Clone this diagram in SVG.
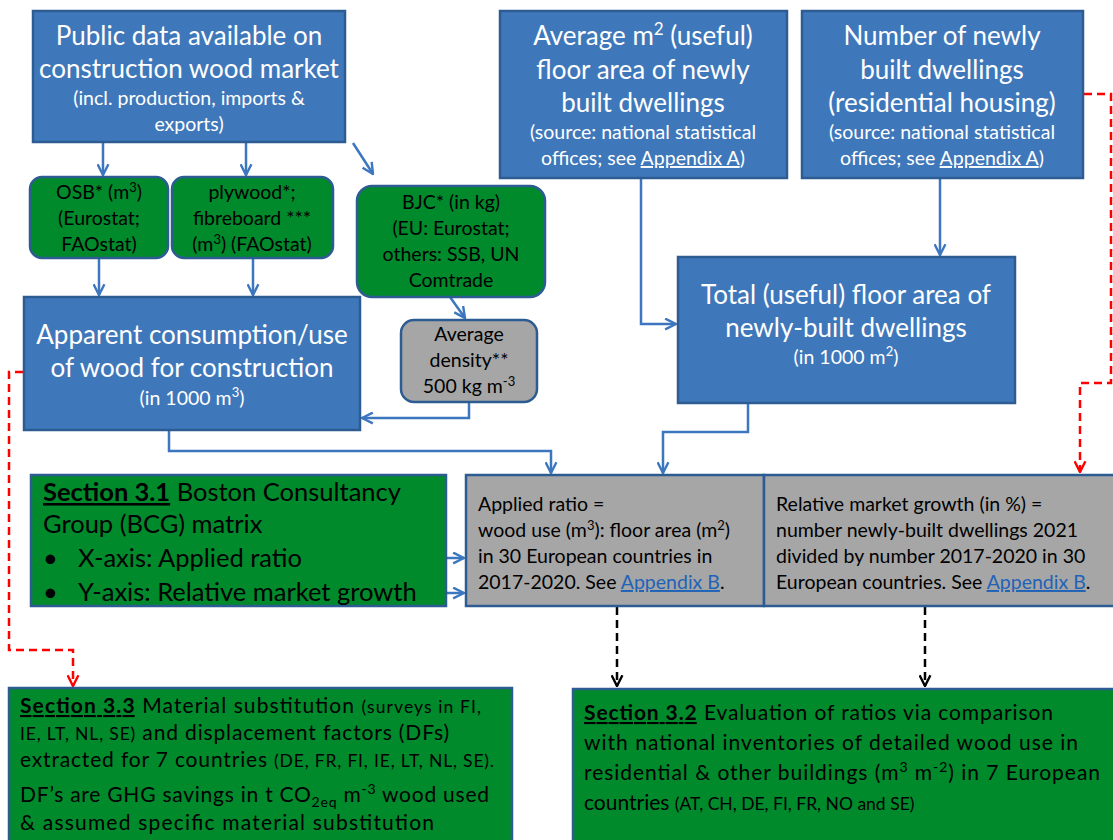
<svg xmlns="http://www.w3.org/2000/svg" width="1113" height="840" viewBox="0 0 1113 840">
<defs>
<style>
.blue{fill:#3f78ba;stroke:#2d5c92;stroke-width:2.5}
.green{fill:#008a2b;stroke:#2d5c92;stroke-width:2.5}
.gray{fill:#a6a6a6;stroke:#2d5c92;stroke-width:2.5}
text{font-family:Lato,"Liberation Sans",sans-serif}
.wt{fill:#ffffff;text-anchor:middle}
.bt{fill:#000000;text-anchor:middle}
.lt{fill:#000000}
.big{font-size:26px}
.mid{font-size:19.5px}
.sm{font-size:19.5px}
.gt{font-size:19.5px}
.link{fill:#1f63b8;text-decoration:underline}
.ul{text-decoration:underline;font-weight:bold}
.conn{fill:none;stroke:#3b76bf;stroke-width:2.5}
.red{fill:none;stroke:#ff0000;stroke-width:2.5;stroke-dasharray:8,5}
.blk{fill:none;stroke:#000000;stroke-width:2.5;stroke-dasharray:8,5}
</style>
<marker id="ab" viewBox="0 0 12 12" refX="11" refY="6" markerWidth="13" markerHeight="13" markerUnits="userSpaceOnUse" orient="auto"><path d="M1,1 L11,6 L1,11" fill="none" stroke="#3b76bf" stroke-width="2.2"/></marker>
<marker id="ar" viewBox="0 0 12 12" refX="11" refY="6" markerWidth="13" markerHeight="13" markerUnits="userSpaceOnUse" orient="auto"><path d="M1,1 L11,6 L1,11" fill="none" stroke="#ff0000" stroke-width="2.2"/></marker>
<marker id="ak" viewBox="0 0 12 12" refX="11" refY="6" markerWidth="13" markerHeight="13" markerUnits="userSpaceOnUse" orient="auto"><path d="M1,1 L11,6 L1,11" fill="none" stroke="#000000" stroke-width="2.2"/></marker>
</defs>
<rect width="1113" height="840" fill="#ffffff"/>

<g id="connectors">
<path class="conn" d="M103,142 V175" marker-end="url(#ab)"/>
<path class="conn" d="M246,142 V175" marker-end="url(#ab)"/>
<path class="conn" d="M353,143 L373,174" marker-end="url(#ab)"/>
<path class="conn" d="M99,258 V295" marker-end="url(#ab)"/>
<path class="conn" d="M253,258 V295" marker-end="url(#ab)"/>
<path class="conn" d="M450,297 L465,318" marker-end="url(#ab)"/>
<path class="conn" d="M469,402 V418 H362" marker-end="url(#ab)"/>
<path class="conn" d="M169,430 V451 H551 V473" marker-end="url(#ab)"/>
<path class="conn" d="M641,178 V324 H676" marker-end="url(#ab)"/>
<path class="conn" d="M940,178 V255" marker-end="url(#ab)"/>
<path class="conn" d="M748,403 V432 H663 V473" marker-end="url(#ab)"/>
<path class="conn" d="M446,558 H464" marker-end="url(#ab)"/>
<path class="conn" d="M446,593 H464" marker-end="url(#ab)"/>
<path class="red" d="M1084,94 H1111 V383 H1080 V472" marker-end="url(#ar)"/>
<path class="red" d="M36,372 H9 V650 H73 V686" marker-end="url(#ar)"/>
<path class="blk" d="M617,607 V686" marker-end="url(#ak)"/>
<path class="blk" d="M925,607 V686" marker-end="url(#ak)"/>
</g>

<g id="public-data">
<rect class="blue" x="33" y="11" width="312" height="131"/>
<text class="wt big" x="189" y="45">Public data available on</text>
<text class="wt big" x="189" y="78">construction wood market</text>
<text class="wt sm" x="189" y="105">(incl. production, imports &amp;</text>
<text class="wt sm" x="189" y="131">exports)</text>
</g>

<g id="average-floor">
<rect class="blue" x="500" y="11" width="287" height="167"/>
<text class="wt big" x="643" y="45">Average  m<tspan font-size="17" dy="-10">2</tspan><tspan dy="10"> (useful)</tspan></text>
<text class="wt big" x="643" y="79">floor area of newly</text>
<text class="wt big" x="643" y="112">built dwellings</text>
<text class="wt mid" x="643" y="139">(source: national statistical</text>
<text class="wt mid" x="643" y="165">offices; see <tspan text-decoration="underline">Appendix A</tspan>)</text>
</g>

<g id="number-dwellings">
<rect class="blue" x="802" y="11" width="281" height="167"/>
<text class="wt big" x="942" y="45">Number of newly</text>
<text class="wt big" x="942" y="79">built dwellings</text>
<text class="wt big" x="942" y="112">(residential housing)</text>
<text class="wt mid" x="942" y="139">(source: national statistical</text>
<text class="wt mid" x="942" y="165">offices; see <tspan text-decoration="underline">Appendix A</tspan>)</text>
</g>

<g id="osb">
<rect class="green" x="30" y="177" width="138" height="81" rx="12"/>
<text class="bt mid" x="99" y="199">OSB* (m<tspan font-size="13" dy="-7">3</tspan><tspan dy="7">)</tspan></text>
<text class="bt mid" x="99" y="225">(Eurostat;</text>
<text class="bt mid" x="99" y="251">FAOstat)</text>
</g>

<g id="plywood">
<rect class="green" x="172" y="177" width="161" height="81" rx="12"/>
<text class="bt mid" x="252" y="199">plywood*;</text>
<text class="bt mid" x="252" y="225">fibreboard ***</text>
<text class="bt mid" x="252" y="251">(m<tspan font-size="13" dy="-7">3</tspan><tspan dy="7">) (FAOstat)</tspan></text>
</g>

<g id="bjc">
<rect class="green" x="357" y="186" width="188" height="111" rx="15"/>
<text class="bt mid" x="451" y="209">BJC* (in kg)</text>
<text class="bt mid" x="451" y="235">(EU: Eurostat;</text>
<text class="bt mid" x="451" y="261">others: SSB, UN</text>
<text class="bt mid" x="451" y="287">Comtrade</text>
</g>

<g id="apparent-consumption">
<rect class="blue" x="24" y="297" width="336" height="133"/>
<text class="wt big" x="192" y="344">Apparent consumption/use</text>
<text class="wt big" x="192" y="377">of wood for construction</text>
<text class="wt sm" x="192" y="405">(in 1000 m<tspan font-size="13" dy="-8">3</tspan><tspan dy="8">)</tspan></text>
</g>

<g id="density">
<rect class="gray" x="401" y="320" width="136" height="82" rx="13"/>
<text class="bt mid" x="469" y="341">Average</text>
<text class="bt mid" x="469" y="367">density**</text>
<text class="bt mid" x="469" y="393">500 kg m<tspan font-size="13" dy="-7">-3</tspan></text>
</g>

<g id="total-floor">
<rect class="blue" x="678" y="257" width="337" height="146"/>
<text class="wt big" x="846" y="304">Total (useful) floor area of</text>
<text class="wt big" x="846" y="337">newly-built dwellings</text>
<text class="wt sm" x="846" y="364">(in 1000 m<tspan font-size="13" dy="-8">2</tspan><tspan dy="8">)</tspan></text>
</g>

<g id="section-3-1">
<rect class="green" x="31" y="475" width="415" height="131"/>
<text class="lt" font-size="25.5" x="43" y="501"><tspan class="ul">Section 3.1</tspan> Boston Consultancy</text>
<text class="lt" font-size="25.5" x="43" y="533">Group (BCG) matrix</text>
<text class="lt" font-size="25.5" x="43" y="567">•</text>
<text class="lt" font-size="25.5" x="78" y="567">X-axis: Applied ratio</text>
<text class="lt" font-size="25.5" x="43" y="601">•</text>
<text class="lt" font-size="25.5" x="78" y="601">Y-axis: Relative market growth</text>
</g>

<g id="applied-ratio">
<rect class="gray" x="466" y="475" width="298" height="131"/>
<text class="lt gt" x="478" y="511">Applied ratio =</text>
<text class="lt gt" x="478" y="537">wood use (m<tspan font-size="13" dy="-7">3</tspan><tspan dy="7">): floor area (m</tspan><tspan font-size="13" dy="-7">2</tspan><tspan dy="7">)</tspan></text>
<text class="lt gt" x="478" y="563">in 30 European countries in</text>
<text class="lt gt" x="478" y="589">2017-2020. See <tspan class="link">Appendix B</tspan>.</text>
</g>

<g id="market-growth">
<rect class="gray" x="764" y="475" width="352" height="131"/>
<text class="lt gt" x="776" y="511">Relative market growth (in %) =</text>
<text class="lt gt" x="776" y="537">number newly-built dwellings 2021</text>
<text class="lt gt" x="776" y="563">divided by number 2017-2020 in 30</text>
<text class="lt gt" x="776" y="589">European countries. See <tspan class="link">Appendix B</tspan>.</text>
</g>

<g id="section-3-3">
<rect class="green" x="9" y="688" width="503" height="160"/>
<text class="lt" font-size="21" x="20" y="713" textLength="461" lengthAdjust="spacing"><tspan class="ul">Section 3.3</tspan> Material substitution  <tspan font-size="17.5">(surveys in FI,</tspan></text>
<text class="lt" font-size="21" x="20" y="740" textLength="429" lengthAdjust="spacing"><tspan font-size="17.5">IE, LT, NL, SE)</tspan> and displacement factors (DFs)</text>
<text class="lt" font-size="21" x="20" y="767" textLength="474" lengthAdjust="spacing">extracted for 7 countries <tspan font-size="17.5">(DE, FR, FI, IE, LT, NL, SE).</tspan></text>
<text class="lt" font-size="21" x="20" y="802" textLength="469" lengthAdjust="spacing">DF’s are GHG savings in t CO<tspan font-size="14" dy="5">2eq</tspan><tspan dy="-5"> m</tspan><tspan font-size="14" dy="-8">-3</tspan><tspan dy="8">  wood used</tspan></text>
<text class="lt" font-size="21" x="20" y="830" textLength="414" lengthAdjust="spacing">&amp; assumed  specific material substitution</text>
</g>

<g id="section-3-2">
<rect class="green" x="573" y="689" width="545" height="160"/>
<text class="lt" font-size="21" x="584" y="720" textLength="469" lengthAdjust="spacing"><tspan class="ul">Section 3.2</tspan> Evaluation of ratios via comparison</text>
<text class="lt" font-size="21" x="584" y="750" textLength="494" lengthAdjust="spacing">with national inventories of detailed wood use in</text>
<text class="lt" font-size="21" x="584" y="780" textLength="516" lengthAdjust="spacing">residential &amp; other buildings (m<tspan font-size="14" dy="-8">3</tspan><tspan dy="8"> m</tspan><tspan font-size="14" dy="-8">-2</tspan><tspan dy="8">) in 7 European</tspan></text>
<text class="lt" font-size="21" x="584" y="810">countries  <tspan font-size="17.5">(AT, CH, DE, FI, FR, NO and SE)</tspan></text>
</g>
</svg>
